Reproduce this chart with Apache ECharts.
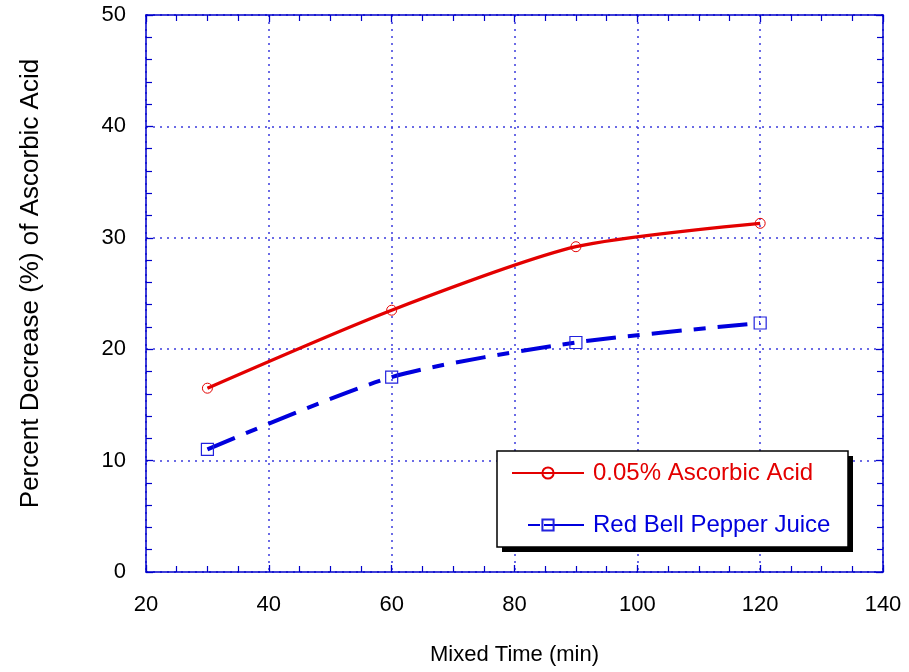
<!DOCTYPE html>
<html><head><meta charset="utf-8">
<script src="https://cdn.jsdelivr.net/npm/echarts@6/dist/echarts.min.js"></script>
<style>html,body{margin:0;padding:0;background:#fff}#c{width:909px;height:672px}</style>
</head><body><div id="c"></div>
<script>
const times = [30, 60, 90, 120];
const ascorbicAcid = [16.5, 23.5, 29.2, 31.3];
const pepperJuice = [11.0, 17.5, 20.6, 22.35];
const xTicks = [20, 40, 60, 80, 100, 120, 140];
const yTicks = [0, 10, 20, 30, 40, 50];
const seriesNames = ['0.05% Ascorbic Acid', 'Red Bell Pepper Juice'];

const blue = '#0000cc';
const red = '#e30000';
const sBlue = '#0000dd';
const font = 'Liberation Sans, Arial, sans-serif';
const chart = echarts.init(document.getElementById('c'));
function axisBase(split) {
  return {
    axisLine: {show: true, onZero: false, lineStyle: {color: blue, width: 1.5}},
    axisTick: {show: true, inside: true, length: 7, lineStyle: {color: blue, width: 1.3}},
    minorTick: {show: true, splitNumber: split, length: 6, lineStyle: {color: blue, width: 1.2}}
  };
}
const gridLine = {show: true, lineStyle: {color: '#3b3bdd', type: [2, 5], width: 1.5}};
chart.setOption({
  animation: false,
  grid: {left: 146, right: 26, top: 15, bottom: 100},
  graphic: [
    {type: 'rect', shape: {x: 502, y: 456, width: 351, height: 96}, style: {fill: '#000'}, z: 10},
    {type: 'rect', shape: {x: 497, y: 451, width: 351, height: 96}, style: {fill: '#fff', stroke: '#000', lineWidth: 1.5}, z: 11}
  ],
  xAxis: [
    Object.assign(axisBase(4), {type: 'value', min: xTicks[0], max: xTicks[xTicks.length-1], interval: 20,
      name: 'Mixed Time (min)', nameLocation: 'middle', nameGap: 72,
      nameTextStyle: {fontFamily: font, fontSize: 22, color: '#000'},
      axisLabel: {fontFamily: font, fontSize: 22, color: '#000', margin: 22},
      splitLine: gridLine}),
    Object.assign(axisBase(4), {type: 'value', position: 'top', min: xTicks[0], max: xTicks[xTicks.length-1], interval: 20,
      axisLabel: {show: false}, splitLine: {show: false}})
  ],
  yAxis: [
    Object.assign(axisBase(5), {type: 'value', min: yTicks[0], max: yTicks[yTicks.length-1], interval: 10,
      name: 'Percent Decrease (%) of Ascorbic Acid', nameLocation: 'middle', nameGap: 102,
      nameTextStyle: {fontFamily: font, fontSize: 26, color: '#000', padding: [0, 0, 0, 20]},
      axisLabel: {fontFamily: font, fontSize: 22, color: '#000', margin: 20},
      splitLine: gridLine}),
    Object.assign(axisBase(5), {type: 'value', position: 'right', min: yTicks[0], max: yTicks[yTicks.length-1], interval: 10,
      axisLabel: {show: false}, splitLine: {show: false}})
  ],
  legend: {
    orient: 'vertical', left: 511, top: 460, padding: 0, z: 12,
    itemGap: 26, itemWidth: 72, itemHeight: 14,
    textStyle: {fontFamily: font, fontSize: 24, lineHeight: 26, padding: [0, 0, 0, 4]},
    data: [
      {name: seriesNames[0], textStyle: {color: red}},
      {name: seriesNames[1], textStyle: {color: sBlue}, lineStyle: {type: [0, 16, 12, 4, 100, 0]}}
    ]
  },
  series: [
    {name: seriesNames[0], type: 'line', smooth: 0.25,
      data: times.map((t, i) => [t, ascorbicAcid[i]]),
      symbol: 'circle', symbolSize: 10, showSymbol: true,
      lineStyle: {color: red, width: 3.3},
      itemStyle: {color: 'rgba(255,255,255,0)', borderColor: red, borderWidth: 1}, z: 3},
    {name: seriesNames[1], type: 'line', smooth: 0.25,
      data: times.map((t, i) => [t, pepperJuice[i]]),
      symbol: 'rect', symbolSize: 12,
      lineStyle: {color: sBlue, width: 4, type: [30, 12, 12, 12]},
      itemStyle: {color: 'rgba(255,255,255,0)', borderColor: '#2222dd', borderWidth: 1.2}, z: 3}
  ]
});
</script></body></html>
